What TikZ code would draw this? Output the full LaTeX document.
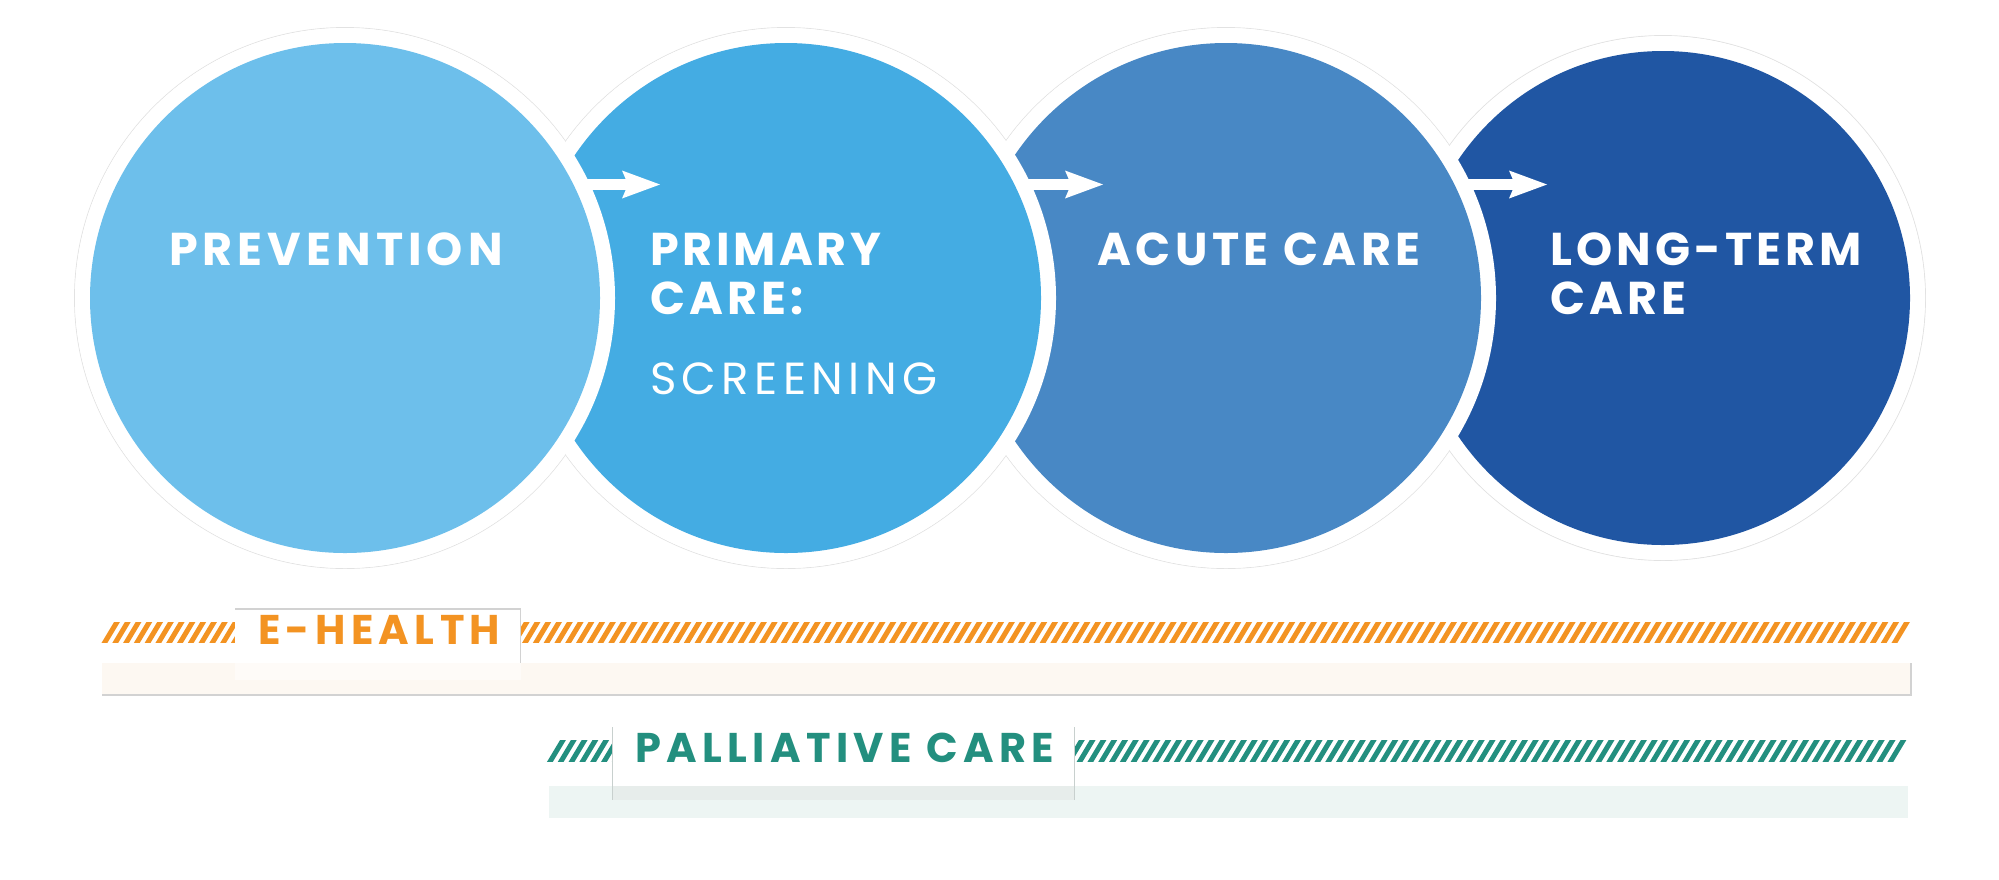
\documentclass[tikz,border=0pt]{standalone}
\usepackage{fontspec}
\setmainfont{Poppins}
\usetikzlibrary{arrows.meta}
\definecolor{cOne}{HTML}{6DBFEB}
\definecolor{cTwo}{HTML}{44ACE3}
\definecolor{cThree}{HTML}{4888C5}
\definecolor{cFour}{HTML}{2056A3}
\definecolor{ehOrange}{HTML}{F39322}
\definecolor{pcTeal}{HTML}{238F7F}
\definecolor{ehBand}{HTML}{FDF8F2}
\definecolor{ehBandLight}{HTML}{FEFBF8}
\definecolor{pcBand}{HTML}{EDF5F3}
\definecolor{pcShade}{HTML}{E7EDEB}
\definecolor{ringGray}{HTML}{E2E2E2}
\definecolor{boxGray}{HTML}{D2D2D2}
\definecolor{pcLine}{HTML}{C8D0CE}
\begin{document}
\begin{tikzpicture}[x=1pt,y=-1pt,
  circlabel/.style={anchor=base west,inner sep=0pt,outer sep=0pt,text=white,
    font=\fontsize{46}{50}\selectfont\bfseries\addfontfeature{LetterSpace=9}},
  sublabel/.style={anchor=base west,inner sep=0pt,outer sep=0pt,text=white,
    font=\fontsize{45}{50}\selectfont\addfontfeature{LetterSpace=12}},
  bandlabel/.style={anchor=base west,inner sep=0pt,outer sep=0pt,
    font=\fontsize{41.5}{45}\selectfont\bfseries\addfontfeature{LetterSpace=13}},
  flowarrow/.style={white,line width=11pt,
    -{Stealth[length=38pt,width=28pt,inset=6pt,line width=0pt]}},
  hatchline/.style={line width=5pt},
]
\useasboundingbox (0,0) rectangle (1999,879);
\fill[white] (0,0) rectangle (1999,879);

% circle centres
\coordinate (c1) at (345,298);
\coordinate (c2) at (786,298);
\coordinate (c3) at (1226,298);
\coordinate (c4) at (1663,298);

% outer gray outline of the union
\foreach \c/\r in {c1/270,c2/270,c3/270,c4/262}
  \draw[ringGray,line width=1pt] (\c) circle (\r+0.4);
\foreach \c/\r in {c1/270,c2/270,c3/270,c4/262}
  \fill[white] (\c) circle (\r);

% discs, later ones under earlier ones
\fill[cFour] (c4) circle (247);
\fill[white] (c3) circle (270);
\fill[cThree] (c3) circle (255);
\fill[white] (c2) circle (270);
\fill[cTwo] (c2) circle (255);
\fill[white] (c1) circle (270);
\fill[cOne] (c1) circle (255);

% arrows
\coordinate (a1s) at (578,184.5);  \coordinate (a1e) at (660,184.5);
\coordinate (a2s) at (1020,184.5); \coordinate (a2e) at (1103,184.5);
\coordinate (a3s) at (1460,184.5); \coordinate (a3e) at (1547,184.5);
\draw[flowarrow] (a1s) -- (a1e);
\draw[flowarrow] (a2s) -- (a2e);
\draw[flowarrow] (a3s) -- (a3e);

% circle labels
\node[circlabel,font=\fontsize{46}{50}\selectfont\bfseries\addfontfeature{LetterSpace=11}] (prev) at (169,265) {PREVENTION};
\node[circlabel,font=\fontsize{46}{50}\selectfont\bfseries\addfontfeature{LetterSpace=8}] (prim1) at (650,265) {PRIMARY};
\node[circlabel] (prim2) at (650,314) {CARE:};
\node[sublabel] (scr) at (650,394) {SCREENING};
\node[circlabel,font=\fontsize{46}{50}\selectfont\bfseries\addfontfeature{LetterSpace=10}] (acute) at (1097,265) {ACUTE CARE};
\node[circlabel] (long1) at (1550,265) {LONG-TERM};
\node[circlabel] (long2) at (1550,314) {CARE};

% e-health band
\fill[ehBand] (102,663) rectangle (1911,695);
\draw[boxGray,line width=1.2pt] (102,695) -- (1911,695) -- (1911,663);
\begin{scope}
  \clip (90,622) rectangle (1920,642.5);
  \foreach \i in {0,...,166}
    \draw[ehOrange,hatchline] ({105+10.783*\i-2.4},646) -- ++(16.8,-28);
\end{scope}
\fill[white] (235,609) rectangle (520.5,663);
\fill[ehBandLight] (235,663) rectangle (520.5,680);
\draw[boxGray,line width=1.2pt] (235,609) -- (520.5,609) -- (520.5,663);
\node[bandlabel,text=ehOrange] (eh) at (258,644) {E-HEALTH};

% palliative care band
\fill[pcBand] (549,786) rectangle (1908,818);
\begin{scope}
  \clip (540,740) rectangle (1915,761);
  \foreach \i in {0,...,124}
    \draw[pcTeal,hatchline] ({551+10.81*\i-2.4},764) -- ++(16.8,-28);
\end{scope}
\fill[white] (612.5,727) rectangle (1074.6,786);
\fill[pcShade] (612.5,786) rectangle (1074.6,800);
\draw[pcLine,line width=1pt] (612.5,727) -- (612.5,800);
\draw[pcLine,line width=1pt] (1074.6,727) -- (1074.6,800);
\node[bandlabel,text=pcTeal] (pc) at (635,762.7) {PALLIATIVE CARE};
\end{tikzpicture}
\end{document}
